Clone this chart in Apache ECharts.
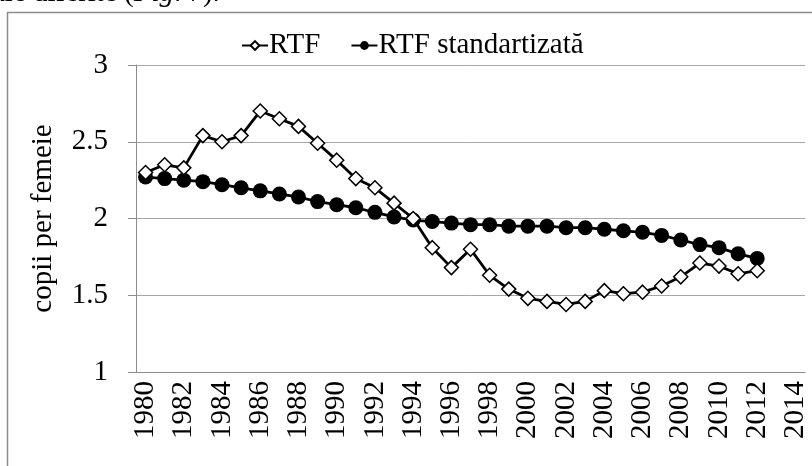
<!DOCTYPE html>
<html>
<head>
<meta charset="utf-8">
<script src="https://cdn.jsdelivr.net/npm/echarts@6/dist/echarts.min.js"></script>
<style>
  html, body { margin: 0; padding: 0; background: #fff; }
  #main { width: 812px; height: 466px; }
</style>
</head>
<body>
<div id="main"></div>
<script>
    // ani 1980 - 2014
    var years = [];
    for (var y = 1980; y <= 2014; y++) {
        years.push(String(y));
    }
    // RTF (copii per femeie)
    var rtf = [2.30, 2.35, 2.33, 2.54, 2.50, 2.54, 2.70, 2.65, 2.60, 2.49,
               2.38, 2.26, 2.20, 2.10, 2.00, 1.81, 1.68, 1.80, 1.63, 1.54,
               1.48, 1.46, 1.44, 1.46, 1.53, 1.51, 1.52, 1.56, 1.62, 1.71,
               1.69, 1.64, 1.66];
    // RTF standartizata
    var rtfStd = [2.27, 2.26, 2.25, 2.24, 2.22, 2.20, 2.18, 2.16, 2.14, 2.11,
                  2.09, 2.07, 2.04, 2.01, 1.99, 1.98, 1.97, 1.96, 1.96, 1.95,
                  1.95, 1.95, 1.94, 1.94, 1.93, 1.92, 1.91, 1.89, 1.86, 1.83,
                  1.81, 1.77, 1.74];

    var serif = '"Liberation Serif", "DejaVu Serif", serif';
    var fs = 29;

    var myChart = echarts.init(document.getElementById('main'));
    myChart.setOption({
        animation: false,
        textStyle: {
            fontFamily: serif,
            color: '#000'
        },
        graphic: [
            {
                type: 'text',
                left: -8,
                top: -21,
                style: {
                    text: 'ale diferite ({i|Fig}. 7).',
                    font: fs + 'px ' + serif,
                    fill: '#000',
                    rich: {
                        i: { fontStyle: 'italic', fontSize: fs, fontFamily: serif }
                    }
                }
            },
            {
                type: 'rect',
                shape: { x: 7.5, y: 12.5, width: 900, height: 600 },
                style: { fill: 'none', stroke: '#8c8c8c', lineWidth: 1.5 },
                z: -1
            }
        ],
        legend: {
            left: 236,
            top: 26,
            itemWidth: 26,
            itemHeight: 11,
            itemGap: 30,
            textStyle: {
                fontSize: fs,
                fontFamily: serif,
                color: '#000',
                padding: [0, 0, 0, -4]
            },
            data: ['RTF', 'RTF standartizată']
        },
        grid: {
            left: 136,
            right: 7,
            top: 65,
            bottom: 94,
            containLabel: false
        },
        xAxis: {
            type: 'category',
            data: years,
            boundaryGap: true,
            axisLine: { lineStyle: { color: '#8c8c8c', width: 1 } },
            axisTick: { alignWithLabel: false, interval: 0, length: 6, lineStyle: { color: '#8c8c8c' } },
            axisLabel: {
                interval: 1,
                rotate: 90,
                margin: 9,
                fontSize: fs,
                fontFamily: serif,
                color: '#000'
            },
            splitLine: { show: false }
        },
        yAxis: {
            type: 'value',
            min: 1,
            max: 3,
            interval: 0.5,
            name: 'copii per femeie',
            nameLocation: 'middle',
            nameGap: 78,
            nameTextStyle: { fontSize: fs, fontFamily: serif, color: '#000' },
            axisLine: { show: true, lineStyle: { color: '#8c8c8c', width: 1 } },
            axisTick: { show: true, length: 8, lineStyle: { color: '#8c8c8c' } },
            axisLabel: { margin: 28, fontSize: fs, fontFamily: serif, color: '#000' },
            splitLine: { show: true, lineStyle: { color: '#a6a6a6', width: 1 } }
        },
        series: [
            {
                name: 'RTF',
                type: 'line',
                data: rtf,
                symbol: 'diamond',
                symbolSize: 14,
                showAllSymbol: true,
                itemStyle: { color: '#fff', borderColor: '#000', borderWidth: 1.5 },
                lineStyle: { color: '#000', width: 2.8 },
                z: 3
            },
            {
                name: 'RTF standartizată',
                type: 'line',
                data: rtfStd,
                symbol: 'circle',
                symbolSize: 15,
                showAllSymbol: true,
                itemStyle: { color: '#000', borderColor: '#000', borderWidth: 0 },
                lineStyle: { color: '#000', width: 2.8 },
                z: 2
            }
        ]
    });
</script>
</body>
</html>
